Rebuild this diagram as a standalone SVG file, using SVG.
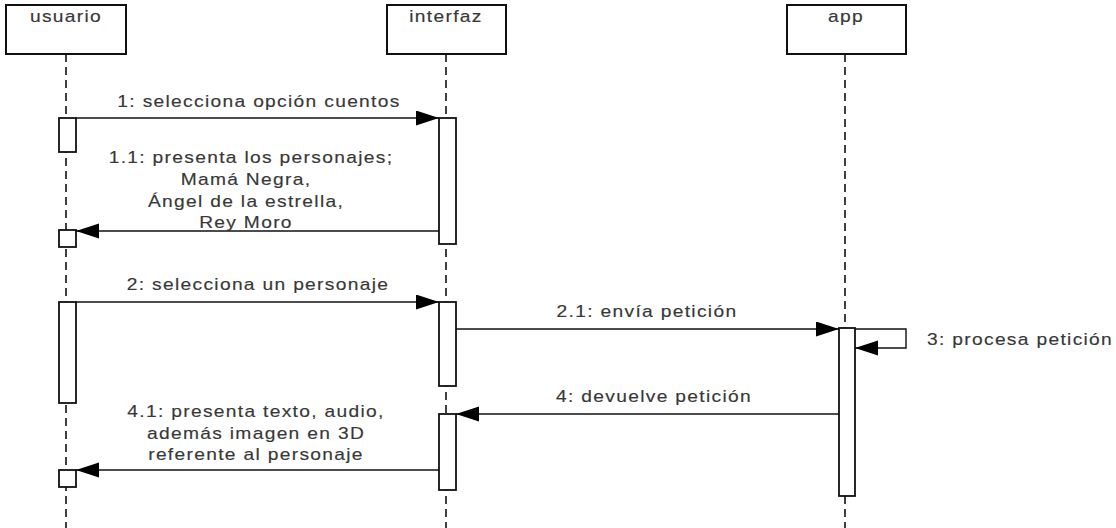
<svg xmlns="http://www.w3.org/2000/svg" width="1116" height="528" viewBox="0 0 1116 528">
  <style>
    .head { fill: #fff; stroke: #111; stroke-width: 2; }
    .life { stroke: #111; stroke-width: 1.6; stroke-dasharray: 8 5; fill: none; }
    .act { fill: #fff; stroke: #111; stroke-width: 1.8; }
    .msg { stroke: #111; stroke-width: 1.4; fill: none; marker-end: url(#tip); }
    text { font-family: "Liberation Sans", Arial, sans-serif; font-size: 16px; letter-spacing: 1.1px; fill: #383838; stroke: #383838; stroke-width: 0.15; text-anchor: middle; }
    .lft { text-anchor: start; }
  </style>
  <defs>
    <marker id="tip" markerUnits="userSpaceOnUse" markerWidth="24" markerHeight="16" refX="23" refY="7.5" orient="auto">
      <path d="M0,0 L23,7.5 L0,15 Z" fill="#000"/>
    </marker>
  </defs>
  <rect width="1116" height="528" fill="#fff"/>

  <!-- lifeline: usuario -->
  <g id="usuario">
    <rect class="head" x="6" y="5" width="120" height="49"/>
    <text transform="translate(66,22) scale(1.2,1)">usuario</text>
    <line class="life" x1="66" y1="54" x2="66" y2="528"/>
    <rect class="act" x="59" y="118" width="17" height="34"/>
    <rect class="act" x="59" y="230" width="17" height="17"/>
    <rect class="act" x="59" y="302" width="17" height="101"/>
    <rect class="act" x="59" y="470" width="17" height="17"/>
  </g>

  <!-- lifeline: interfaz -->
  <g id="interfaz">
    <rect class="head" x="387" y="5" width="119" height="49"/>
    <text transform="translate(446,22) scale(1.2,1)">interfaz</text>
    <line class="life" x1="446" y1="54" x2="446" y2="528"/>
    <rect class="act" x="439" y="118" width="17" height="126"/>
    <rect class="act" x="439" y="302" width="17" height="84"/>
    <rect class="act" x="439" y="414" width="17" height="76"/>
  </g>

  <!-- lifeline: app -->
  <g id="app">
    <rect class="head" x="787" y="5" width="119" height="49"/>
    <text transform="translate(846,22) scale(1.2,1)">app</text>
    <line class="life" x1="845" y1="54" x2="845" y2="528"/>
    <rect class="act" x="839" y="328" width="16" height="168"/>
  </g>

  <!-- messages -->
  <g id="connectors">
    <line class="msg" x1="76" y1="118" x2="439" y2="118"/>
    <line class="msg" x1="439" y1="231" x2="76" y2="231"/>
    <line class="msg" x1="76" y1="302" x2="439" y2="302"/>
    <line class="msg" x1="456" y1="329" x2="839" y2="329"/>
    <polyline class="msg" points="855,329 906,329 906,348 855,348"/>
    <line class="msg" x1="839" y1="414" x2="456" y2="414"/>
    <line class="msg" x1="439" y1="470" x2="76" y2="470"/>
  </g>

  <!-- message labels -->
  <g id="labels">
    <text transform="translate(259,107) scale(1.2,1)">1: selecciona opción cuentos</text>
    <text transform="translate(251,163) scale(1.2,1)">1.1: presenta los personajes;</text>
    <text transform="translate(246,185) scale(1.2,1)">Mamá Negra,</text>
    <text transform="translate(246,207) scale(1.2,1)">Ángel de la estrella,</text>
    <text transform="translate(246,228) scale(1.2,1)">Rey Moro</text>
    <text transform="translate(258,290) scale(1.2,1)">2: selecciona un personaje</text>
    <text transform="translate(647,317) scale(1.2,1)">2.1: envía petición</text>
    <text class="lft" transform="translate(927,345) scale(1.2,1)">3: procesa petición</text>
    <text transform="translate(654,402) scale(1.2,1)">4: devuelve petición</text>
    <text transform="translate(256,417) scale(1.2,1)">4.1: presenta texto, audio,</text>
    <text transform="translate(256,439) scale(1.2,1)">además imagen en 3D</text>
    <text transform="translate(256,460) scale(1.2,1)">referente al personaje</text>
  </g>
</svg>
